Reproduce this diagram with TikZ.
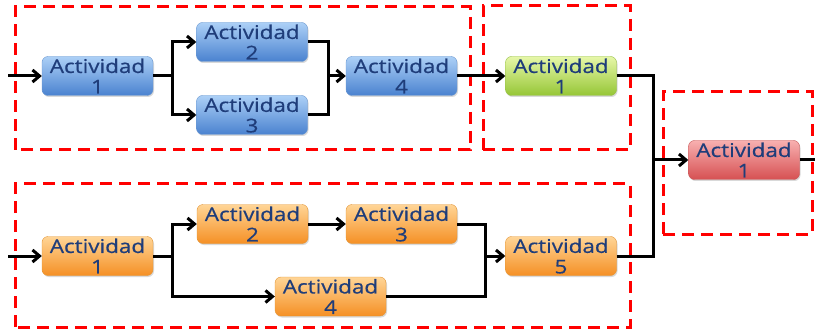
\documentclass[tikz,border=0pt]{standalone}
\usepackage{fontspec}
\setmainfont{Open Sans}[FakeStretch=1.18,FakeBold=0.6]
\usetikzlibrary{arrows.meta,shadows}
\definecolor{txt}{HTML}{1F3D7A}
\definecolor{bluetop}{HTML}{ACD0F6}
\definecolor{bluebot}{HTML}{4A82D0}
\definecolor{blueedge}{HTML}{6A97D0}
\definecolor{greentop}{HTML}{E6F7A8}
\definecolor{greenbot}{HTML}{96C636}
\definecolor{greenedge}{HTML}{94BE45}
\definecolor{redtop}{HTML}{F8B0B0}
\definecolor{redbot}{HTML}{D65052}
\definecolor{rededge}{HTML}{C45556}
\definecolor{orangetop}{HTML}{FFD596}
\definecolor{orangebot}{HTML}{F59025}
\definecolor{orangeedge}{HTML}{E39536}
\tikzset{
  act/.style={rounded corners=6pt, minimum width=111pt, minimum height=39pt,
    inner sep=0pt, align=center, text=txt,
    font=\fontsize{19}{20.5}\selectfont,
    drop shadow={shadow xshift=1pt, shadow yshift=-1.5pt, opacity=0.3}},
  blueact/.style={act, top color=bluetop, bottom color=bluebot, draw=blueedge},
  greenact/.style={act, top color=greentop, bottom color=greenbot, draw=greenedge},
  redact/.style={act, top color=redtop, bottom color=redbot, draw=rededge},
  orangeact/.style={act, top color=orangetop, bottom color=orangebot, draw=orangeedge},
  conn/.style={line width=3pt, black},
  arr/.style={conn, -{Straight Barb[length=7pt,width=12pt,line width=3pt]}},
  group/.style={draw=red, line width=3pt, dash pattern=on 12pt off 7pt}
}
\begin{document}
\begin{tikzpicture}[x=1pt,y=1pt]
\useasboundingbox (0,0) rectangle (815,330);
% groups
\draw[group] (15,180) rectangle (470,323);
\draw[group] (483,180) rectangle (630,324);
\draw[group] (663,96) rectangle (812,238);
\draw[group] (15,3) rectangle (630,146);
% top row
\node[blueact] (b1) at (97.5,254) {Actividad\\1};
\node[blueact] (b2) at (252,288) {Actividad\\2};
\node[blueact] (b3) at (252,215) {Actividad\\3};
\node[blueact] (b4) at (401.5,254) {Actividad\\4};
\node[greenact] (g1) at (561,254) {Actividad\\1};
\node[redact] (r1) at (744,170) {Actividad\\1};
% bottom row
\node[orangeact] (o1) at (97.5,74) {Actividad\\1};
\node[orangeact] (o2) at (252.5,106) {Actividad\\2};
\node[orangeact] (o3) at (401.5,106) {Actividad\\3};
\node[orangeact] (o4) at (330.5,33.5) {Actividad\\4};
\node[orangeact] (o5) at (561,74) {Actividad\\5};
% coordinates
\coordinate (in1) at (8,254);
\coordinate (j1) at (172,254);
\coordinate (j2) at (328,254);
\coordinate (in2) at (8,74);
\coordinate (j3) at (172,74);
\coordinate (j4) at (485,74);
\coordinate (j5) at (653,170);
\coordinate (out) at (815,170);
% top connectors
\draw[arr] (in1) -- (b1);
\draw[conn] (b1) -- (j1);
\draw[arr] (j1) |- (b2);
\draw[arr] (j1) |- (b3);
\draw[conn] (b2) -| (j2);
\draw[conn] (b3) -| (j2);
\draw[arr] (j2) -- (b4);
\draw[arr] (b4) -- (g1);
\draw[conn] (g1) -| (j5);
\draw[arr] (j5) -- (r1);
\draw[conn] (r1) -- (out);
% bottom connectors
\draw[arr] (in2) -- (o1);
\draw[conn] (o1) -- (j3);
\draw[arr] (j3) |- (o2);
\draw[arr] (j3) |- (o4);
\draw[arr] (o2) -- (o3);
\draw[conn] (o3) -| (j4);
\draw[conn] (o4) -| (j4);
\draw[arr] (j4) -- (o5);
\draw[conn] (o5) -| (j5);
\end{tikzpicture}
\end{document}
